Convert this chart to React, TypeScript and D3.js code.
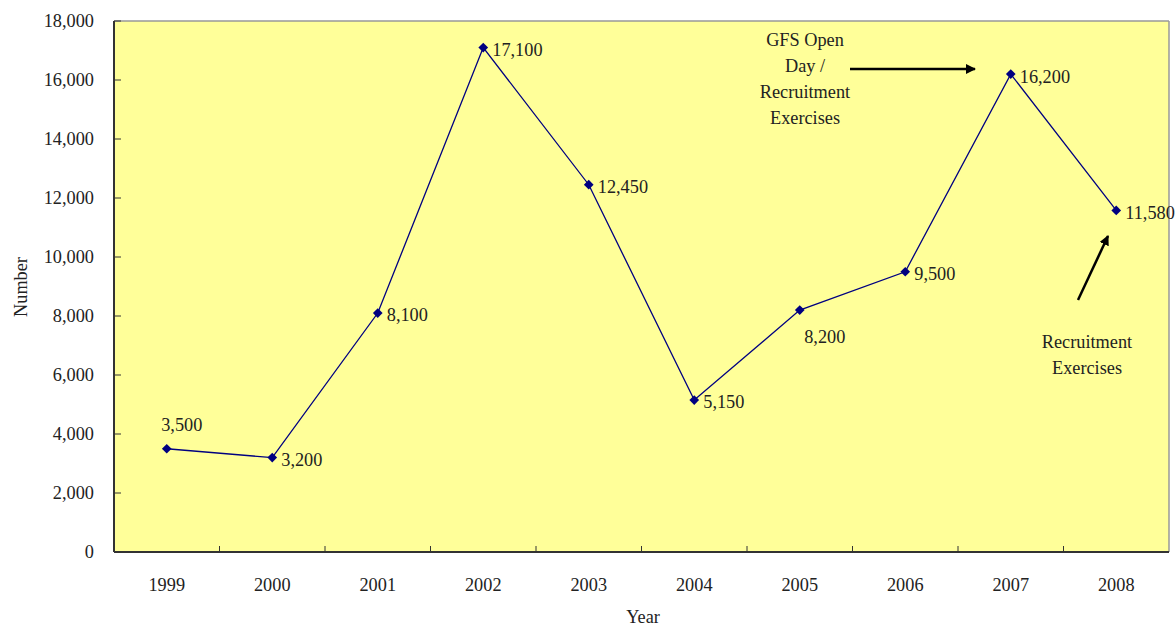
import React from "react";
import * as d3 from "d3";

const years = ["1999", "2000", "2001", "2002", "2003", "2004", "2005", "2006", "2007", "2008"];
const applicants = [3500, 3200, 8100, 17100, 12450, 5150, 8200, 9500, 16200, 11580];
const yTicks = [0, 2000, 4000, 6000, 8000, 10000, 12000, 14000, 16000, 18000];
// label offset direction per point: "above", "right", "below"
const labelPlacement = ["above", "right", "right", "right", "right", "right", "below", "right", "right", "right"];

const W = 1175;
const H = 628;
const margin = { left: 114, right: 6, top: 21, bottom: 76 };
const FONT = "'Liberation Serif', 'Times New Roman', serif";
const FS = 18.3;

export default function App() {
  const x = d3
    .scaleBand<string>()
    .domain(years)
    .range([margin.left, W - margin.right]);
  const y = d3
    .scaleLinear()
    .domain([0, 18000])
    .range([H - margin.bottom, margin.top]);
  const cx = (yr: string) => (x(yr) as number) + x.bandwidth() / 2;
  const line = d3
    .line<number>()
    .x((_, i) => cx(years[i]))
    .y((d) => y(d));
  const fmt = d3.format(",");
  const x0 = margin.left;
  const x1 = W - margin.right;
  const y0 = H - margin.bottom;
  const y1 = margin.top;

  const diamond = d3.symbol().type(d3.symbolDiamond2).size(60)();

  return (
    <svg width={W} height={H} style={{ position: "absolute", left: 0, top: 0 }} fontFamily={FONT}>
      <defs>
        <marker id="ah" viewBox="0 0 10 10" refX="9" refY="5" markerWidth="4" markerHeight="4" orient="auto">
          <path d="M0,0 L10,5 L0,10 z" fill="#000" />
        </marker>
      </defs>
      <rect x={x0} y={y1} width={x1 - x0} height={y0 - y1} fill="#FFFF99" />
      <line x1={x0} x2={x1} y1={y1} y2={y1} stroke="#999" strokeWidth={1.5} />
      <line x1={x1} x2={x1} y1={y1} y2={y0} stroke="#999" strokeWidth={1.5} />
      <line x1={x0} x2={x0} y1={y1} y2={y0} stroke="#333" strokeWidth={2} />
      <line x1={x0} x2={x1} y1={y0} y2={y0} stroke="#333" strokeWidth={2} />

      {yTicks.map((t) => (
        <g key={t}>
          <line x1={x0} x2={x0 + 7} y1={y(t)} y2={y(t)} stroke="#333" strokeWidth={1} />
          <text x={94} y={y(t)} dy="0.35em" textAnchor="end" fontSize={FS} fill="#222">
            {fmt(t)}
          </text>
        </g>
      ))}
      {years.map((yr, i) => (
        <g key={yr}>
          {i > 0 && (
            <line x1={x(yr)} x2={x(yr)} y1={y0} y2={y0 - 6} stroke="#333" strokeWidth={1} />
          )}
          <text x={cx(yr)} y={585} dy="0.35em" textAnchor="middle" fontSize={FS} fill="#222">
            {yr}
          </text>
        </g>
      ))}

      <text x={643} y={617} dy="0.35em" textAnchor="middle" fontSize={FS} fill="#222">Year</text>
      <text transform={`translate(21,287) rotate(-90)`} dy="0.35em" textAnchor="middle" fontSize={FS} fill="#222">
        Number
      </text>

      <path d={line(applicants) || ""} fill="none" stroke="#000080" strokeWidth={1.3} />
      {applicants.map((v, i) => {
        const px = cx(years[i]);
        const py = y(v);
        const pl = labelPlacement[i];
        const lx = pl === "above" ? px + 15 : pl === "below" ? px + 25 : px + 9;
        const ly = pl === "above" ? py - 24 : pl === "below" ? py + 26 : py + 2;
        return (
          <g key={years[i]}>
            <path d={diamond || ""} transform={`translate(${px},${py})`} fill="#000080" />
            <text x={lx} y={ly} dy="0.35em" textAnchor={pl === "right" ? "start" : "middle"} fontSize={FS} fill="#222">
              {fmt(v)}
            </text>
          </g>
        );
      })}

      {["GFS Open", "Day /", "Recruitment", "Exercises"].map((s, i) => (
        <text key={s} x={805} y={40 + i * 25.7} dy="0.35em" textAnchor="middle" fontSize={FS} fill="#222">
          {s}
        </text>
      ))}
      <line x1={850} y1={69} x2={975} y2={69} stroke="#000" strokeWidth={2.5} markerEnd="url(#ah)" />

      {["Recruitment", "Exercises"].map((s, i) => (
        <text key={s} x={1087} y={342 + i * 25.5} dy="0.35em" textAnchor="middle" fontSize={FS} fill="#222">
          {s}
        </text>
      ))}
      <line x1={1078} y1={300} x2={1108} y2={236} stroke="#000" strokeWidth={2.5} markerEnd="url(#ah)" />
    </svg>
  );
}
